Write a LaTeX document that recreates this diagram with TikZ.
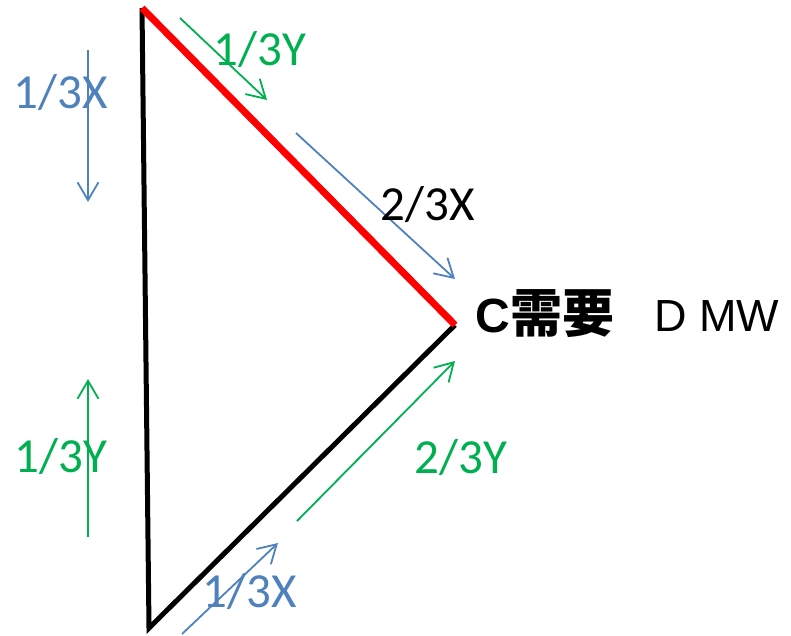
\documentclass[tikz,border=0pt]{standalone}
\usepackage{fontspec}
\setmainfont{Carlito}
\newfontfamily\arialf{Liberation Sans}
\newfontfamily\cjk{Noto Sans CJK SC}
\usetikzlibrary{arrows.meta}
\definecolor{oblue}{RGB}{79,129,189}
\definecolor{ogreen}{RGB}{0,176,80}
\begin{document}
\begin{tikzpicture}[x=1pt,y=-1pt,
  arr/.style={line width=1.8pt,-{Straight Barb[length=18pt,width=21pt,line width=1.8pt]}},
  lbl/.style={font=\fontsize{49}{51}\selectfont,inner sep=0pt,anchor=base}]
\useasboundingbox (0,0) rectangle (791,635);
% triangle vertices
\coordinate (A) at (142,8);
\coordinate (B) at (149,628);
\coordinate (C) at (455,325);
\draw[line width=5pt,line join=miter] (A) -- (B) -- (C);
\draw[line width=7pt,red] (A) -- (C);
% arrow end points
\coordinate (a1s) at (88,50);   \coordinate (a1e) at (88,202);
\coordinate (a2s) at (180,18);  \coordinate (a2e) at (267,100);
\coordinate (a3s) at (296,133); \coordinate (a3e) at (455,279);
\coordinate (a4s) at (88,537);  \coordinate (a4e) at (88,379);
\coordinate (a5s) at (297,521); \coordinate (a5e) at (455,361);
\coordinate (a6s) at (182,634); \coordinate (a6e) at (278,543);
\draw[arr,oblue] (a1s) -- (a1e);
\draw[arr,ogreen] (a2s) -- (a2e);
\draw[arr,oblue] (a3s) -- (a3e);
\draw[arr,ogreen] (a4s) -- (a4e);
\draw[arr,ogreen] (a5s) -- (a5e);
\draw[arr,oblue] (a6s) -- (a6e);
% labels
\node[lbl,text=oblue] (l1) at (61,108) {1/3X};
\node[lbl,text=ogreen] (l2) at (260,65) {1/3Y};
\node[lbl,text=black] (l3) at (428,220) {2/3X};
\node[lbl,text=ogreen] (l4) at (61,472) {1/3Y};
\node[lbl,text=ogreen] (l5) at (461,473) {2/3Y};
\node[lbl,text=oblue] (l6) at (250,607) {1/3X};
\node[inner sep=0pt,anchor=base west] (cneed) at (475,332)
  {\arialf\bfseries\fontsize{48}{52}\selectfont C\hspace{1pt}\cjk\bfseries\fontsize{52}{56}\selectfont 需要};
\node[inner sep=0pt,anchor=base west,font=\arialf\fontsize{45}{50}\selectfont] (dmw) at (654,331) {D MW};
\end{tikzpicture}
\end{document}
